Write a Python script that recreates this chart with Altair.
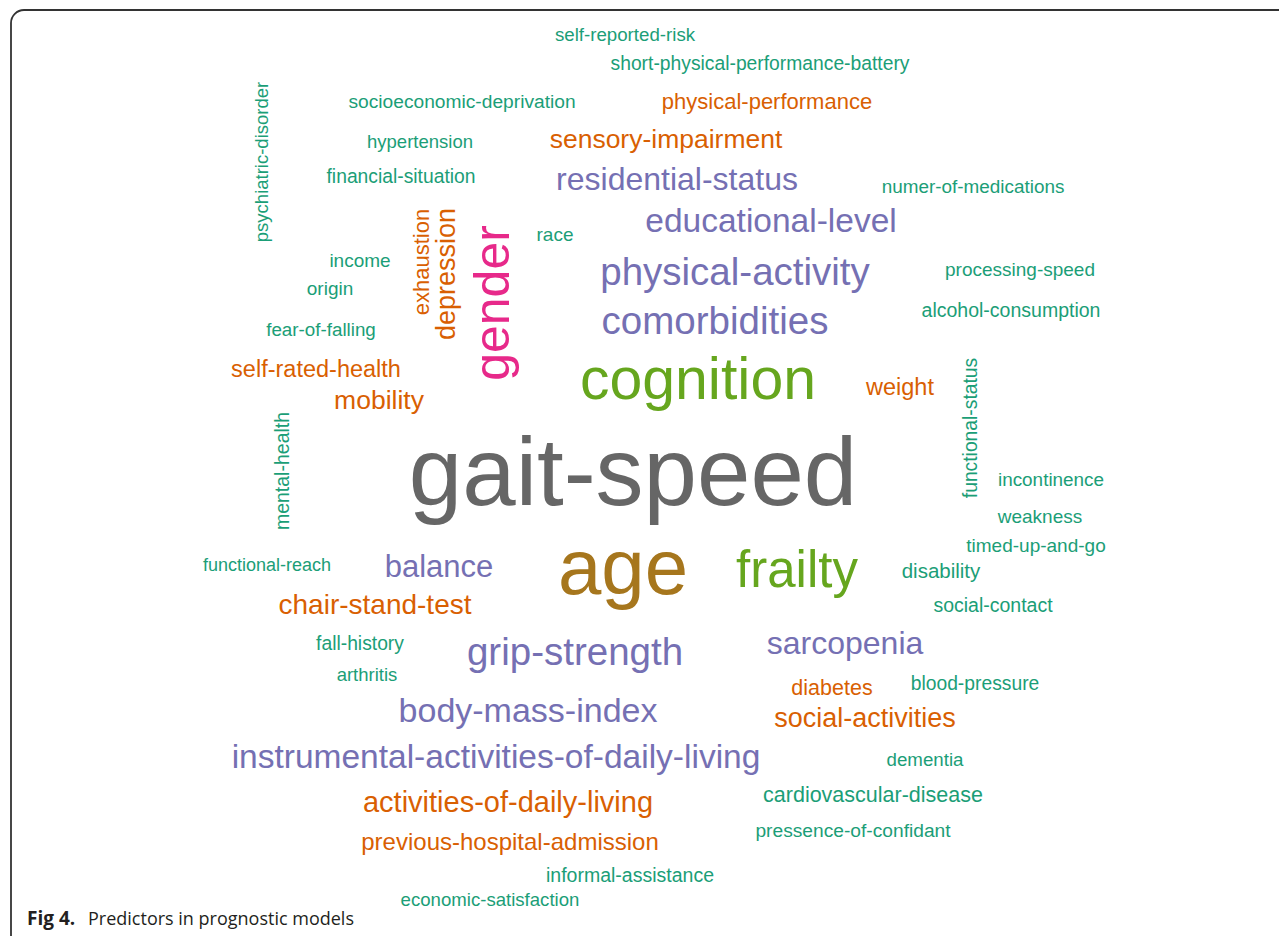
import altair as alt
import pandas as pd

# Word cloud: page-pixel positions (center x, baseline y), font sizes, angles, colour groups
words = [
    "self-reported-risk", "short-physical-performance-battery", "socioeconomic-deprivation",
    "physical-performance", "hypertension", "sensory-impairment", "financial-situation",
    "residential-status", "numer-of-medications", "educational-level", "race", "income",
    "physical-activity", "processing-speed", "origin", "comorbidities", "alcohol-consumption",
    "fear-of-falling", "self-rated-health", "cognition", "weight", "mobility", "gait-speed",
    "incontinence", "weakness", "timed-up-and-go", "functional-reach", "balance", "age",
    "frailty", "disability", "chair-stand-test", "social-contact", "fall-history",
    "grip-strength", "sarcopenia", "arthritis", "diabetes", "blood-pressure", "body-mass-index",
    "social-activities", "instrumental-activities-of-daily-living", "dementia",
    "cardiovascular-disease", "activities-of-daily-living", "previous-hospital-admission",
    "pressence-of-confidant", "informal-assistance", "economic-satisfaction",
    "psychiatric-disorder", "exhaustion", "depression", "gender", "functional-status",
    "mental-health",
]
xs = [
    625, 760, 462,
    767, 420, 666, 401,
    677, 973, 771, 555, 360,
    735, 1020, 330, 715, 1011,
    321, 316, 698, 900, 379, 633,
    1051, 1040, 1036, 267, 439, 623,
    797, 941, 375, 993, 360,
    575, 845, 367, 832, 975, 528,
    865, 496, 925,
    873, 508, 510,
    853, 630, 490,
    268, 429, 455, 509, 977,
    289,
]
ys = [
    41, 70, 108,
    109, 148, 148, 183,
    190, 193, 232, 241, 267,
    285, 276, 295, 334, 317,
    336, 377, 399, 395, 409, 505,
    486, 523, 552, 571, 577, 594,
    587, 578, 614, 612, 650,
    665, 654, 681, 695, 690, 722,
    727, 768, 766,
    802, 812, 850,
    837, 882, 906,
    162, 262, 274, 303, 428,
    471,
]
sizes = [
    18.7, 19.3, 19.2,
    22, 18.5, 26.5, 19.3,
    32, 18.9, 33.5, 19, 19,
    38.5, 19, 19, 38.5, 19.5,
    18.8, 23.5, 59, 23.5, 26.5, 96,
    18.9, 19, 19, 18, 31, 78,
    51, 20.5, 28, 19.5, 19.3,
    38.5, 32, 18.5, 21.5, 19.3, 34,
    27, 33.5, 18.7,
    21.5, 29, 24,
    19.2, 19.5, 18.6,
    18.5, 22, 27, 50, 19.3,
    19.5,
]
angles = [0] * 49 + [270, 270, 270, 270, 270, 270]
groups = [
    "t", "t", "t",
    "o", "t", "o", "t",
    "p", "t", "p", "t", "t",
    "p", "t", "t", "p", "t",
    "t", "o", "g", "o", "o", "k",
    "t", "t", "t", "t", "p", "m",
    "g", "t", "o", "t", "t",
    "p", "p", "t", "o", "t", "p",
    "o", "p", "t",
    "t", "o", "o",
    "t", "t", "t",
    "t", "o", "o", "r", "t",
    "t",
]
group_domain = ["t", "o", "p", "g", "k", "m", "r"]
group_colors = ["#1b9e77", "#d95f02", "#7570b3", "#66a61e", "#666666", "#a6761d", "#e7298a"]

caption_bold = ["Fig 4."]
caption_text = ["Predictors in prognostic models"]
caption_bold_x = [27]
caption_text_x = [88]
caption_y = [925]

W, H = 1271, 928
OFF = 8

df = pd.DataFrame({"word": words, "x": xs, "y": ys, "size": sizes,
                   "angle": angles, "grp": groups})

xscale = alt.Scale(domain=[OFF, OFF + W], range=[0, W], nice=False, zero=False)
yscale = alt.Scale(domain=[OFF, OFF + H], range=[0, H], nice=False, zero=False)

cloud = alt.Chart(df).mark_text(
    font="Liberation Sans", align="center", baseline="alphabetic"
).encode(
    x=alt.X("x:Q", scale=xscale, axis=None),
    y=alt.Y("y:Q", scale=yscale, axis=None),
    text="word:N",
    size=alt.Size("size:Q", scale=None, legend=None),
    angle=alt.Angle("angle:Q", scale=None),
    color=alt.Color("grp:N", scale=alt.Scale(domain=group_domain, range=group_colors), legend=None),
)

frame = alt.Chart(pd.DataFrame({"k": [0]})).mark_rect(
    filled=False, stroke="#333333", strokeWidth=1.8, cornerRadius=13
).encode(
    x=alt.value(3), x2=alt.value(W + 60), y=alt.value(2), y2=alt.value(H + 60)
)

cap_b = alt.Chart(pd.DataFrame({"t": caption_bold, "x": caption_bold_x, "y": caption_y})).mark_text(
    font="Open Sans", fontSize=19, fontWeight="bold", align="left", baseline="alphabetic",
    color="#231f20"
).encode(
    x=alt.X("x:Q", scale=xscale, axis=None),
    y=alt.Y("y:Q", scale=yscale, axis=None),
    text="t:N",
)
cap_t = alt.Chart(pd.DataFrame({"t": caption_text, "x": caption_text_x, "y": caption_y})).mark_text(
    font="Open Sans", fontSize=18, align="left", baseline="alphabetic", color="#231f20"
).encode(
    x=alt.X("x:Q", scale=xscale, axis=None),
    y=alt.Y("y:Q", scale=yscale, axis=None),
    text="t:N",
)

chart = alt.layer(frame, cloud, cap_b, cap_t).properties(
    width=W, height=H, padding=0,
    autosize=alt.AutoSizeParams(type="none"),
).configure_view(stroke=None)

chart.save("out.html", embed_options={"renderer": "svg", "actions": False})
